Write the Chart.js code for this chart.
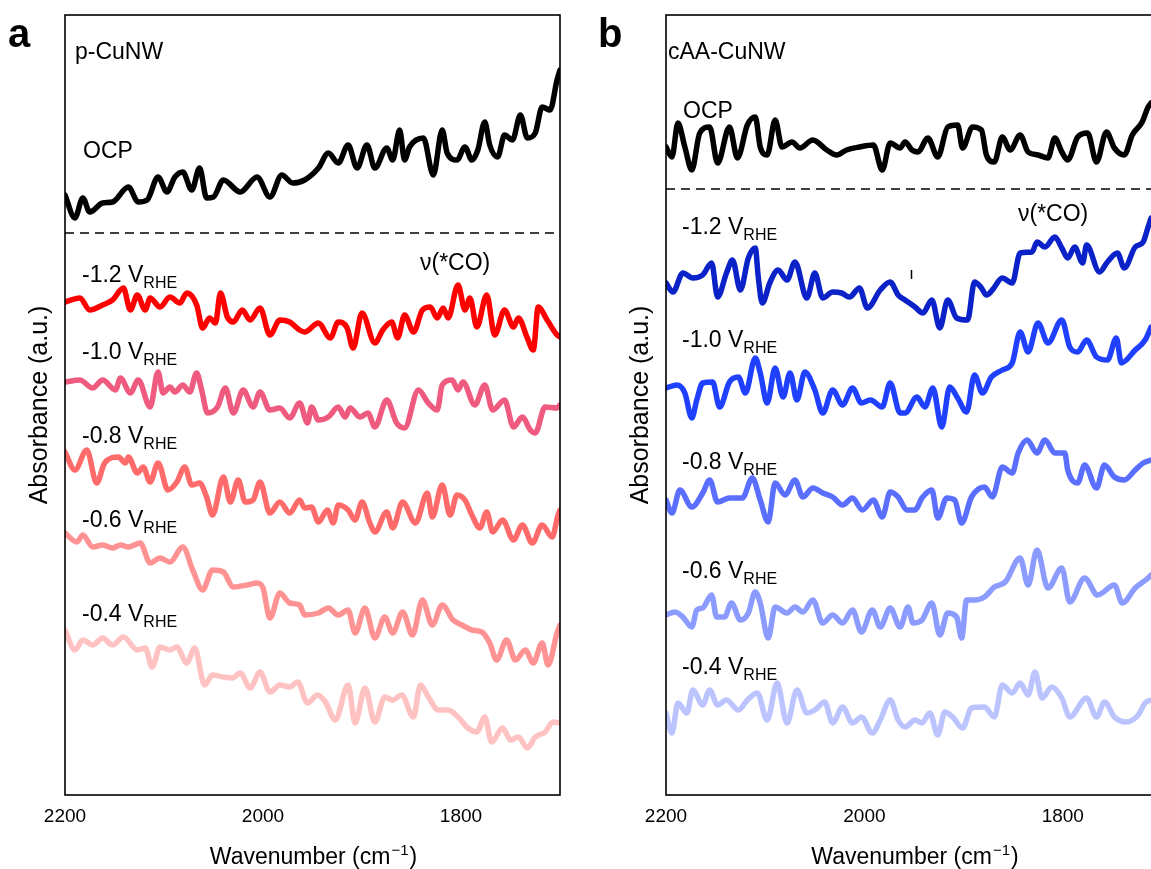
<!DOCTYPE html>
<html>
<head>
<meta charset="utf-8">
<script src="https://cdn.jsdelivr.net/npm/chart.js@4.4.0/dist/chart.umd.min.js"></script>
<style>
  html, body { margin: 0; padding: 0; background: #fff; }
  body { position: relative; width: 1151px; height: 869px; overflow: hidden; }
  #panelA { position: absolute; left: 0; top: 0; }
  #panelB { position: absolute; left: 580px; top: 0; }
</style>
</head>
<body>
<canvas id="panelA" width="600" height="869"></canvas>
<canvas id="panelB" width="620" height="869"></canvas>
<script>
// spectra: [wavenumber (cm-1), absorbance (a.u., offset stacked)]
const wnTicks = [2200, 2000, 1800];

// p-CuNW
const ocpA = [[2200,600],[2190,577],[2182,597],[2175,583],[2162,592],[2152,593],[2136,608],[2126,593],[2117,595],[2106,618],[2097,603],[2089,618],[2081,623],[2072,605],[2064,627],[2057,597],[2050,598],[2040,615],[2023,603],[2006,618],[1993,598],[1981,620],[1970,612],[1958,615],[1944,627],[1934,642],[1924,632],[1914,650],[1905,627],[1895,650],[1887,627],[1875,647],[1869,635],[1862,665],[1857,635],[1852,648],[1838,657],[1828,620],[1819,665],[1814,642],[1804,635],[1796,648],[1789,635],[1783,645],[1776,673],[1771,650],[1763,638],[1756,660],[1748,655],[1740,680],[1733,657],[1725,662],[1718,688],[1710,685],[1703,715],[1700,725]];
const m12A = [[2200,493],[2185,497],[2175,485],[2162,490],[2152,495],[2141,507],[2134,485],[2127,500],[2119,485],[2114,497],[2104,488],[2094,498],[2084,492],[2077,502],[2067,490],[2061,467],[2054,477],[2048,472],[2043,502],[2036,478],[2030,473],[2021,485],[2013,475],[2003,487],[1993,460],[1983,475],[1973,473],[1963,465],[1958,463],[1944,472],[1932,457],[1924,473],[1915,467],[1909,447],[1900,482],[1887,452],[1879,465],[1870,473],[1864,457],[1857,480],[1848,463],[1839,485],[1831,488],[1824,477],[1818,487],[1813,477],[1803,510],[1796,485],[1791,497],[1784,468],[1774,500],[1766,460],[1756,485],[1747,468],[1742,477],[1733,457],[1727,445],[1722,488],[1713,475],[1703,460],[1700,458]];
const m10A = [[2200,413],[2185,415],[2172,407],[2162,415],[2149,405],[2144,417],[2134,402],[2126,415],[2114,388],[2106,423],[2101,402],[2094,408],[2089,403],[2081,410],[2074,403],[2067,422],[2062,405],[2056,382],[2046,388],[2038,407],[2030,382],[2020,405],[2010,388],[2003,403],[1993,385],[1983,387],[1973,377],[1963,392],[1955,372],[1951,388],[1944,375],[1934,378],[1924,388],[1917,378],[1912,387],[1902,378],[1894,382],[1887,368],[1875,395],[1865,372],[1857,367],[1843,405],[1833,392],[1824,385],[1819,410],[1809,415],[1803,405],[1798,413],[1786,390],[1776,410],[1768,385],[1756,395],[1747,368],[1738,378],[1730,365],[1725,362],[1715,388],[1703,387],[1700,390]];
const m08A = [[2200,343],[2190,325],[2178,345],[2168,312],[2160,332],[2146,338],[2139,332],[2136,338],[2127,322],[2121,328],[2114,313],[2106,332],[2096,305],[2087,313],[2079,328],[2072,310],[2064,312],[2057,298],[2051,280],[2040,318],[2033,293],[2025,315],[2018,293],[2010,295],[2003,313],[1993,282],[1983,293],[1973,282],[1963,295],[1958,287],[1951,288],[1944,273],[1935,285],[1929,272],[1924,290],[1914,285],[1907,275],[1900,293],[1892,272],[1887,263],[1875,283],[1869,267],[1859,293],[1846,272],[1834,302],[1829,278],[1819,310],[1811,280],[1804,300],[1796,295],[1789,280],[1781,267],[1774,283],[1768,263],[1758,275],[1747,255],[1738,270],[1728,252],[1718,270],[1708,258],[1702,280],[1700,285]];
const m06A = [[2200,262],[2188,253],[2182,260],[2172,248],[2162,250],[2152,247],[2144,250],[2136,248],[2124,252],[2114,232],[2104,237],[2094,233],[2081,248],[2071,225],[2061,205],[2051,225],[2040,223],[2030,208],[2016,210],[2006,212],[2000,207],[1993,177],[1983,202],[1973,192],[1963,190],[1958,180],[1944,182],[1934,187],[1924,180],[1914,185],[1907,162],[1897,187],[1887,157],[1877,178],[1869,162],[1859,183],[1849,160],[1839,195],[1829,170],[1819,190],[1808,175],[1799,170],[1789,165],[1779,163],[1771,152],[1764,135],[1754,155],[1745,135],[1735,145],[1727,132],[1718,152],[1712,130],[1703,162],[1700,170]];
const m04A = [[2200,165],[2190,145],[2182,155],[2172,150],[2162,157],[2152,150],[2141,158],[2127,145],[2119,147],[2112,128],[2104,148],[2094,145],[2087,148],[2077,132],[2069,147],[2059,110],[2051,120],[2040,118],[2031,117],[2023,122],[2013,107],[2003,123],[1993,103],[1983,110],[1973,108],[1965,113],[1955,92],[1945,100],[1937,93],[1927,75],[1914,110],[1907,72],[1897,107],[1887,73],[1877,98],[1869,95],[1860,100],[1848,78],[1841,110],[1833,98],[1823,85],[1813,85],[1803,78],[1793,67],[1784,63],[1776,78],[1769,53],[1758,67],[1750,55],[1742,58],[1733,47],[1725,58],[1715,63],[1707,73],[1700,72]];
const refLineA = 562;

// cAA-CuNW
const ocpB = [[2200,648],[2194,638],[2188,672],[2181,648],[2174,625],[2166,662],[2156,668],[2148,632],[2136,668],[2128,637],[2118,670],[2110,678],[2105,648],[2098,640],[2090,675],[2083,648],[2073,653],[2065,647],[2052,655],[2038,645],[2028,640],[2018,645],[2005,648],[1991,650],[1982,625],[1974,652],[1964,647],[1959,653],[1952,645],[1946,643],[1936,657],[1926,638],[1916,668],[1906,670],[1901,647],[1891,668],[1882,665],[1877,640],[1869,633],[1861,658],[1853,645],[1843,660],[1835,643],[1825,640],[1815,637],[1808,657],[1801,643],[1795,635],[1785,658],[1775,662],[1766,633],[1756,663],[1748,647],[1738,640],[1730,660],[1720,673],[1714,688],[1711,692]];
const m12B = [[2200,512],[2193,503],[2183,522],[2173,517],[2163,520],[2154,532],[2148,498],[2139,522],[2133,535],[2125,505],[2117,537],[2110,547],[2107,518],[2103,492],[2095,513],[2087,525],[2078,515],[2070,533],[2058,497],[2050,522],[2042,497],[2032,503],[2023,502],[2015,498],[2005,507],[1997,487],[1984,505],[1974,513],[1966,500],[1959,495],[1949,488],[1941,482],[1932,495],[1924,467],[1916,495],[1907,477],[1896,475],[1889,513],[1882,507],[1877,500],[1871,505],[1861,517],[1851,512],[1843,542],[1831,543],[1826,553],[1818,548],[1808,558],[1801,547],[1795,537],[1788,548],[1780,532],[1776,550],[1763,523],[1755,533],[1745,542],[1738,527],[1727,548],[1719,553],[1714,568],[1711,577]];
const m10B = [[2200,407],[2189,410],[2181,402],[2174,377],[2169,395],[2163,412],[2153,413],[2146,388],[2136,413],[2127,418],[2120,402],[2110,437],[2105,422],[2098,392],[2090,427],[2082,398],[2075,422],[2068,395],[2060,423],[2050,405],[2042,382],[2032,405],[2022,390],[2012,407],[2003,392],[1994,395],[1982,388],[1974,412],[1964,382],[1959,382],[1947,398],[1939,388],[1931,407],[1922,368],[1914,408],[1906,397],[1897,383],[1889,420],[1881,402],[1872,418],[1861,425],[1851,432],[1843,463],[1835,443],[1825,472],[1815,452],[1801,475],[1793,448],[1785,443],[1776,455],[1766,438],[1755,435],[1746,457],[1741,432],[1727,445],[1717,455],[1711,468]];
const m08B = [[2200,295],[2194,282],[2186,305],[2174,288],[2163,302],[2156,315],[2148,293],[2136,297],[2123,297],[2113,317],[2105,295],[2097,273],[2090,312],[2080,300],[2070,315],[2062,298],[2052,307],[2042,302],[2032,298],[2022,290],[2012,297],[2002,285],[1991,295],[1982,278],[1974,303],[1966,298],[1957,285],[1949,285],[1942,297],[1932,305],[1926,277],[1917,297],[1909,295],[1902,272],[1892,298],[1879,308],[1871,298],[1861,328],[1851,322],[1845,342],[1836,355],[1826,342],[1818,355],[1808,342],[1798,342],[1795,325],[1785,312],[1778,330],[1766,307],[1758,330],[1748,318],[1738,315],[1727,325],[1719,332],[1711,335]];
const m06B = [[2200,180],[2191,183],[2183,178],[2174,168],[2169,185],[2163,187],[2154,200],[2149,178],[2141,178],[2134,192],[2125,175],[2117,182],[2110,203],[2105,192],[2097,157],[2090,188],[2078,182],[2070,188],[2062,183],[2052,195],[2042,172],[2032,180],[2022,172],[2012,185],[2003,163],[1992,185],[1984,168],[1974,187],[1964,168],[1956,188],[1951,172],[1942,175],[1932,192],[1924,160],[1916,182],[1907,178],[1902,157],[1897,195],[1889,195],[1879,198],[1869,208],[1858,213],[1843,237],[1835,210],[1826,245],[1815,207],[1801,227],[1793,193],[1778,217],[1765,200],[1748,210],[1740,192],[1727,207],[1714,217],[1711,220]];
const m04B = [[2200,82],[2194,62],[2188,92],[2179,82],[2173,105],[2163,90],[2156,105],[2148,90],[2139,95],[2127,85],[2118,95],[2108,102],[2098,75],[2088,112],[2078,72],[2068,105],[2058,82],[2050,85],[2040,93],[2032,72],[2022,88],[2012,72],[2003,78],[1992,62],[1984,75],[1974,95],[1966,75],[1959,68],[1949,75],[1942,72],[1934,82],[1926,60],[1919,83],[1911,78],[1901,67],[1892,87],[1879,88],[1869,78],[1861,110],[1851,102],[1843,112],[1835,100],[1828,123],[1821,97],[1811,108],[1801,97],[1793,78],[1776,97],[1766,78],[1758,93],[1748,78],[1736,73],[1724,80],[1717,92],[1711,95]];
const refLineB = 606;

const FONT = 'Liberation Sans, Arial, sans-serif';

// box around the plot area
const framePlugin = {
  id: 'frame',
  afterDraw(chart) {
    const { ctx, chartArea: a } = chart;
    ctx.save();
    ctx.strokeStyle = '#000';
    ctx.lineWidth = 1.6;
    ctx.strokeRect(a.left, a.top, a.right - a.left, a.bottom - a.top);
    ctx.restore();
  }
};

// text labels, V_RHE with subscript, x axis title with superscript
function labelPlugin(opts) {
  return {
    id: 'labels',
    afterDraw(chart) {
      const { ctx, chartArea: a, scales } = chart;
      ctx.save();
      ctx.fillStyle = '#000';
      ctx.textBaseline = 'alphabetic';
      opts.texts.forEach(t => {
        ctx.font = '23px ' + FONT;
        ctx.fillText(t.text, t.x, t.y);
        if (t.sub) {
          const w = ctx.measureText(t.text).width;
          ctx.font = '16px ' + FONT;
          ctx.fillText(t.sub, t.x + w, t.y + 6);
        }
      });
      // small vertical marker
      if (opts.marker) {
        const mx = Math.round(scales.x.getPixelForValue(opts.marker.x)) + 0.5;
        ctx.strokeStyle = '#000';
        ctx.lineWidth = 1.5;
        ctx.beginPath();
        ctx.moveTo(mx, scales.y.getPixelForValue(opts.marker.y1));
        ctx.lineTo(mx, scales.y.getPixelForValue(opts.marker.y2));
        ctx.stroke();
      }
      // panel letter
      ctx.font = 'bold 40px ' + FONT;
      ctx.fillText(opts.letter, opts.letterX, 47);
      // x axis title
      const cx = (a.left + a.right) / 2;
      ctx.font = '23px ' + FONT;
      const p1 = 'Wavenumber (cm', p2 = '\u22121', p3 = ')';
      const w1 = ctx.measureText(p1).width, w3 = ctx.measureText(p3).width;
      ctx.font = '15px ' + FONT;
      const w2 = ctx.measureText(p2).width;
      let x = cx - (w1 + w2 + w3) / 2;
      const y = 864;
      ctx.font = '23px ' + FONT;
      ctx.fillText(p1, x, y);
      ctx.font = '15px ' + FONT;
      ctx.fillText(p2, x + w1 + 1, y - 9);
      ctx.font = '23px ' + FONT;
      ctx.fillText(p3, x + w1 + w2 + 2, y);
      ctx.restore();
    }
  };
}

function makePanel(id, series, refY, yWidth, padRight, titlePad, labels) {
  const datasets = series.map(s => ({
    data: s.pts.map(p => ({ x: p[0], y: p[1] })),
    borderColor: s.color,
    borderWidth: 5.5,
    pointRadius: 0,
    cubicInterpolationMode: 'monotone',
    borderJoinStyle: 'round',
    borderCapStyle: 'round'
  }));
  datasets.push({
    data: [{ x: 2200, y: refY }, { x: 1700, y: refY }],
    borderColor: '#000',
    borderWidth: 1.5,
    borderDash: [9, 6],
    pointRadius: 0
  });
  return new Chart(document.getElementById(id), {
    type: 'line',
    data: { datasets },
    options: {
      responsive: false,
      animation: false,
      devicePixelRatio: 1,
      layout: { padding: { left: 0, right: padRight, top: 15, bottom: 0 } },
      plugins: { legend: { display: false }, tooltip: { enabled: false } },
      scales: {
        x: {
          type: 'linear', min: 1700, max: 2200, reverse: true,
          afterFit: s => { s.height = 74; },
          afterBuildTicks: s => { s.ticks = wnTicks.map(v => ({ value: v })); },
          grid: { display: false, drawTicks: false },
          border: { display: false },
          ticks: {
            color: '#000', font: { family: FONT, size: 19 }, padding: 10, maxRotation: 0,
            callback: v => String(v)
          }
        },
        y: {
          min: 0, max: 780,
          afterFit: s => { s.width = yWidth; },
          grid: { display: false, drawTicks: false },
          border: { display: false },
          ticks: { display: false },
          title: {
            display: true, text: 'Absorbance (a.u.)', color: '#000',
            font: { family: FONT, size: 25, lineHeight: 1.2 },
            padding: { top: titlePad, bottom: 0 }
          }
        }
      }
    },
    plugins: [framePlugin, labelPlugin(labels)]
  });
}

makePanel('panelA', [
  { pts: ocpA, color: '#000000' },
  { pts: m12A, color: '#ff0000' },
  { pts: m10A, color: '#ef5b7f' },
  { pts: m08A, color: '#ff6a6a' },
  { pts: m06A, color: '#ff9393' },
  { pts: m04A, color: '#ffc2c2' }
], refLineA, 65, 40, 25, {
  letter: 'a', letterX: 8,
  texts: [
    { text: 'p-CuNW', x: 75, y: 59 },
    { text: 'OCP', x: 83, y: 158 },
    { text: '-1.2 V', sub: 'RHE', x: 82, y: 282 },
    { text: '-1.0 V', sub: 'RHE', x: 82, y: 359 },
    { text: '-0.8 V', sub: 'RHE', x: 82, y: 443 },
    { text: '-0.6 V', sub: 'RHE', x: 82, y: 527 },
    { text: '-0.4 V', sub: 'RHE', x: 82, y: 621 },
    { text: '\u03bd(*CO)', x: 420, y: 270 }
  ]
});

makePanel('panelB', [
  { pts: ocpB, color: '#000000' },
  { pts: m12B, color: '#0b22c9' },
  { pts: m10B, color: '#2040ff' },
  { pts: m08B, color: '#5a6eff' },
  { pts: m06B, color: '#8c9bff' },
  { pts: m04B, color: '#bcc4ff' }
], refLineB, 86, 38, 46, {
  letter: 'b', letterX: 18,
  marker: { x: 1953, y1: 525, y2: 516 },
  texts: [
    { text: 'cAA-CuNW', x: 88, y: 59 },
    { text: 'OCP', x: 103, y: 118 },
    { text: '-1.2 V', sub: 'RHE', x: 102, y: 234 },
    { text: '-1.0 V', sub: 'RHE', x: 102, y: 347 },
    { text: '-0.8 V', sub: 'RHE', x: 102, y: 469 },
    { text: '-0.6 V', sub: 'RHE', x: 102, y: 578 },
    { text: '-0.4 V', sub: 'RHE', x: 102, y: 674 },
    { text: '\u03bd(*CO)', x: 438, y: 221 }
  ]
});
</script>
</body>
</html>
